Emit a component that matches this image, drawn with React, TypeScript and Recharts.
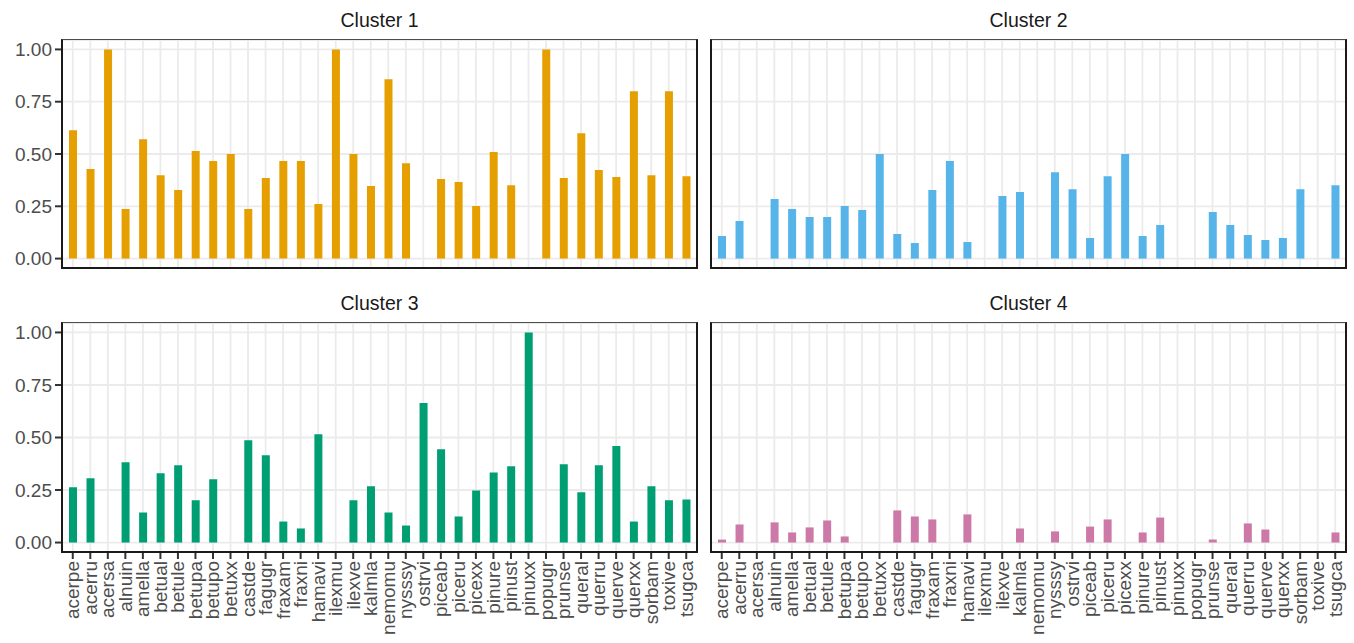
import { Bar, BarChart, CartesianGrid, XAxis, YAxis } from "recharts";

const SPECIES = [
  "acerpe", "acerru", "acersa", "alnuin", "amella", "betual", "betule", "betupa", "betupo",
  "betuxx", "castde", "fagugr", "fraxam", "fraxni", "hamavi", "ilexmu", "ilexve", "kalmla",
  "nemomu", "nysssy", "ostrvi", "piceab", "piceru", "picexx", "pinure", "pinust", "pinuxx",
  "popugr", "prunse", "queral", "querru", "querve", "querxx", "sorbam", "toxive", "tsugca",
];

const CLUSTER_1 = [
  0.614, 0.428, 1.0, 0.237, 0.571, 0.399, 0.328, 0.514, 0.466, 0.5, 0.237, 0.385, 0.466, 0.466,
  0.261, 1.0, 0.5, 0.347, 0.857, 0.456, 0, 0.38, 0.366, 0.251, 0.509, 0.351, 0, 1.0, 0.385, 0.599,
  0.423, 0.39, 0.8, 0.399, 0.8, 0.394,
];
const CLUSTER_2 = [
  0.108, 0.18, 0, 0.285, 0.237, 0.199, 0.199, 0.251, 0.232, 0.5, 0.118, 0.075, 0.328, 0.466, 0.079,
  0, 0.299, 0.318, 0, 0.413, 0.332, 0.099, 0.394, 0.5, 0.108, 0.161, 0, 0, 0.223, 0.161, 0.113,
  0.089, 0.099, 0.332, 0, 0.351,
];
const CLUSTER_3 = [
  0.263, 0.306, 0, 0.382, 0.143, 0.33, 0.368, 0.201, 0.301, 0, 0.487, 0.416, 0.1, 0.067, 0.516, 0,
  0.201, 0.268, 0.143, 0.081, 0.664, 0.444, 0.124, 0.248, 0.334, 0.363, 1.0, 0, 0.373, 0.239, 0.368,
  0.459, 0.1, 0.268, 0.201, 0.205,
];
const CLUSTER_4 = [
  0.014, 0.086, 0, 0.096, 0.048, 0.072, 0.105, 0.029, 0, 0, 0.153, 0.124, 0.11, 0, 0.134, 0, 0,
  0.067, 0, 0.053, 0, 0.076, 0.11, 0, 0.048, 0.119, 0, 0, 0.014, 0, 0.091, 0.062, 0, 0, 0, 0.048,
];

const Y_TICKS = [0, 0.25, 0.5, 0.75, 1];
const DOMAIN: [number, number] = [-0.045, 1.045];
const FONT = "'Liberation Sans', Arial, Helvetica, sans-serif";

function RotatedTick({ x, y, payload }: any) {
  return (
    <text
      x={x}
      y={y}
      transform={`rotate(-90, ${x}, ${y})`}
      textAnchor="end"
      dominantBaseline="central"
      fill="#4d4d4d"
      fontSize={19}
      fontFamily={FONT}
    >
      {payload.value}
    </text>
  );
}

// draws nothing, but keeps the ticks (and so the vertical grid lines) alive
function EmptyTick() {
  return <g />;
}

function Panel({
  title,
  values,
  color,
  left,
  top,
  showY,
  showX,
}: {
  title: string;
  values: number[];
  color: string;
  left: number;
  top: number;
  showY: boolean;
  showX: boolean;
}) {
  const data = SPECIES.map((name, i) => ({ name, value: values[i] }));
  const width = showY ? 700 : 654;
  const height = showX ? 363 : 280;
  const marginTop = showX ? 43 : 40;
  const marginBottom = showX ? 0 : 12;
  const xAxisHeight = showX ? 91 : 0;
  const margin = showY
    ? { top: marginTop, right: 3, left: 0, bottom: marginBottom }
    : { top: marginTop, right: 8, left: 11, bottom: marginBottom };
  const plotLeft = showY ? 62 : 11;
  const plotWidth = 635;
  const plotHeight = height - marginTop - marginBottom - xAxisHeight;

  return (
    <div style={{ position: "absolute", left, top, width, height }}>
      <div
        style={{
          position: "absolute",
          left: plotLeft,
          width: plotWidth,
          top: showX ? 9 : 6,
          lineHeight: "28px",
          textAlign: "center",
          fontSize: 19.5,
          color: "#1a1a1a",
          fontFamily: FONT,
        }}
      >
        {title}
      </div>
      <BarChart width={width} height={height} data={data} margin={margin}>
        <CartesianGrid stroke="#ebebeb" strokeWidth={1.8} />
        <XAxis
          dataKey="name"
          interval={0}
          padding={{ left: 2, right: 2 }}
          height={xAxisHeight}
          tick={showX ? <RotatedTick /> : <EmptyTick />}
          tickLine={showX ? { stroke: "#333333", strokeWidth: 2 } : false}
          tickSize={7}
          tickMargin={2}
          axisLine={false}
        />
        <YAxis
          type="number"
          domain={DOMAIN}
          ticks={Y_TICKS}
          allowDataOverflow
          width={showY ? 62 : 0}
          tick={showY ? { fill: "#4d4d4d", fontSize: 19, fontFamily: FONT } : <EmptyTick />}
          tickLine={showY ? { stroke: "#333333", strokeWidth: 2 } : false}
          tickSize={7}
          tickMargin={3}
          tickFormatter={(v: number) => v.toFixed(2)}
          axisLine={false}
        />
        <Bar dataKey="value" fill={color} barSize={8} isAnimationActive={false} />
      </BarChart>
      <div
        style={{
          position: "absolute",
          left: plotLeft - 1,
          top: marginTop - 1,
          width: plotWidth + 2,
          height: plotHeight + 2,
          boxSizing: "border-box",
          borderLeft: "2px solid #1a1a1a",
          borderBottom: "2px solid #1a1a1a",
          borderRight: "2px solid #1a1a1a",
          borderTop: "1px solid #4d4d4d",
          pointerEvents: "none",
        }}
      />
    </div>
  );
}

export default function App() {
  return (
    <div
      style={{
        position: "absolute",
        left: 0,
        top: 0,
        width: 1354,
        height: 643,
        background: "#ffffff",
        fontFamily: FONT,
      }}
    >
      <Panel title="Cluster 1" values={CLUSTER_1} color="#E69F00" left={0} top={0} showY showX={false} />
      <Panel title="Cluster 2" values={CLUSTER_2} color="#56B4E9" left={700} top={0} showY={false} showX={false} />
      <Panel title="Cluster 3" values={CLUSTER_3} color="#009E73" left={0} top={280} showY showX />
      <Panel title="Cluster 4" values={CLUSTER_4} color="#CC79A7" left={700} top={280} showY={false} showX />
    </div>
  );
}
